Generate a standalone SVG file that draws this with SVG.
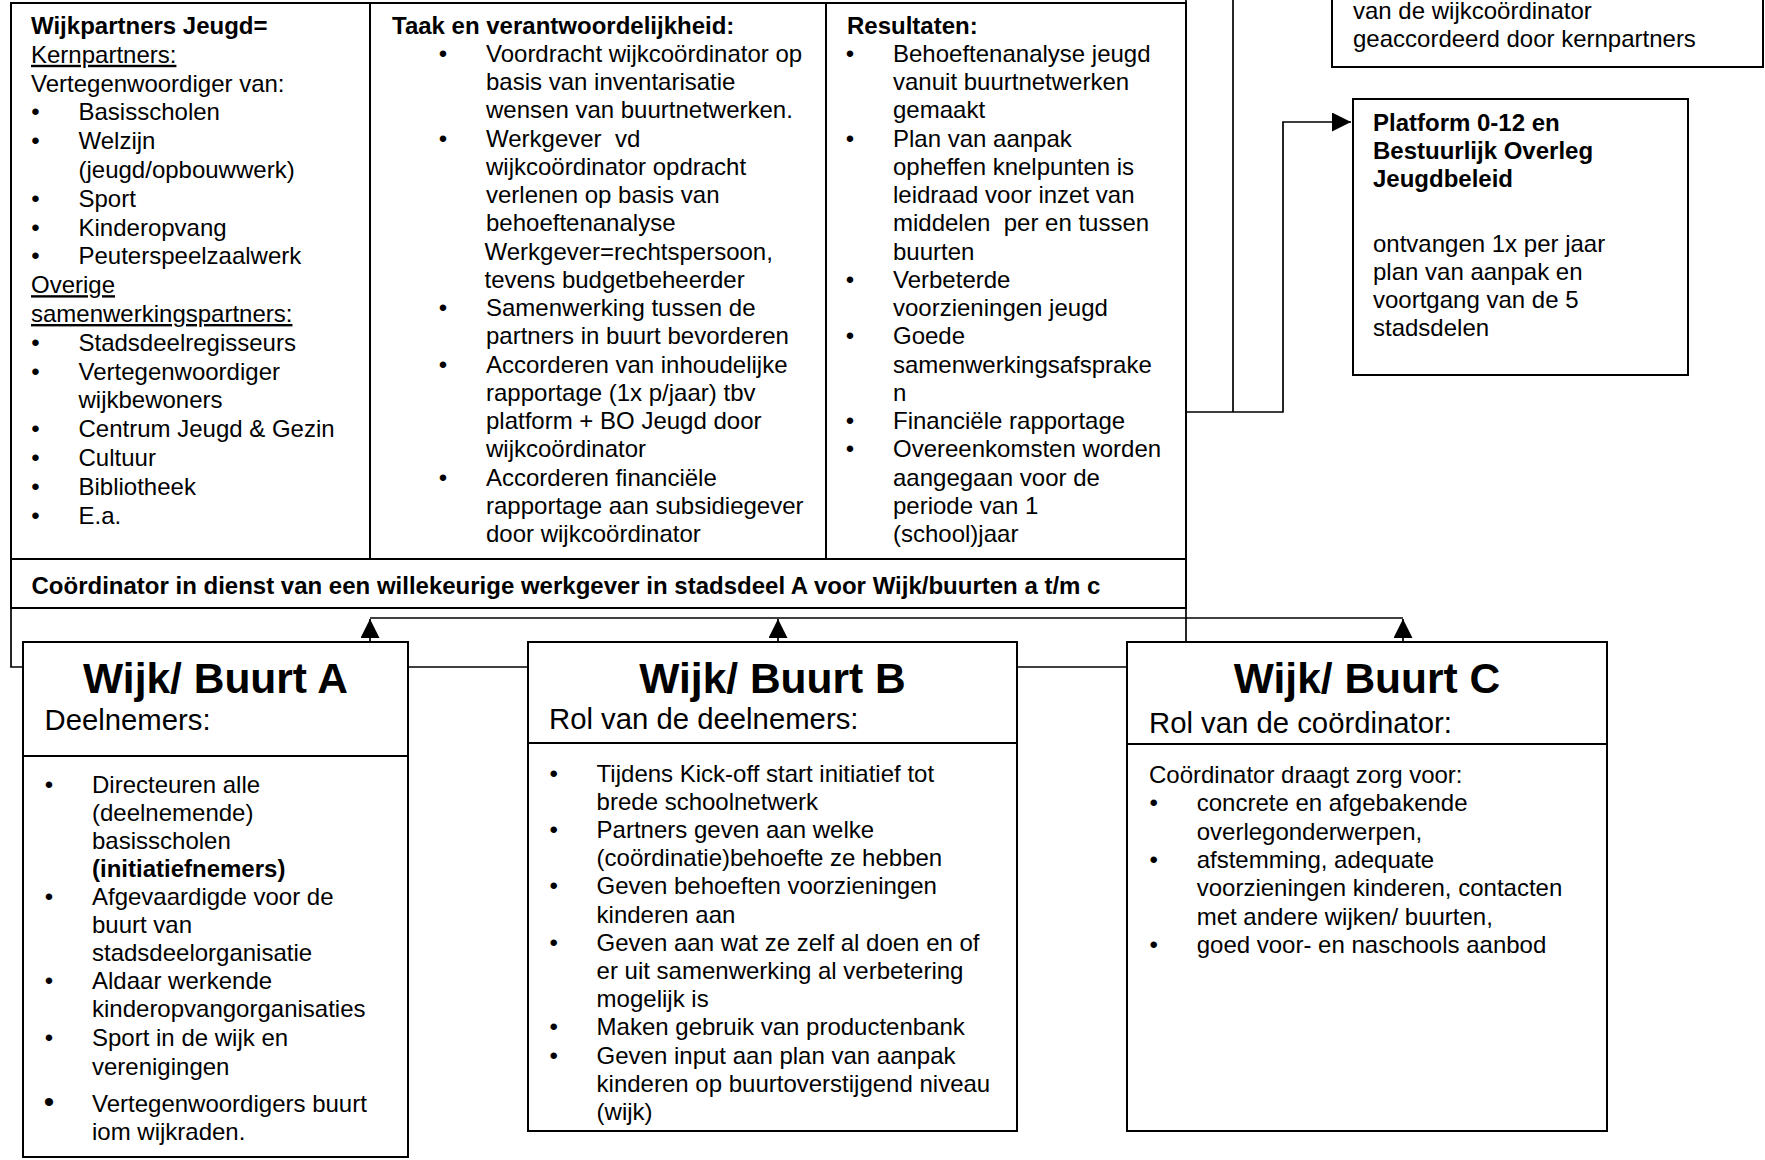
<svg xmlns="http://www.w3.org/2000/svg" width="1765" height="1160" viewBox="0 0 1765 1160">
<defs>
<style>
text{font-family:"Liberation Sans",Arial,sans-serif;font-size:24px;fill:#000}
.b{font-weight:bold}
.u{text-decoration:underline}
.pre{white-space:pre}
.ti{font-size:42.5px;font-weight:bold;text-anchor:middle}
.st{font-size:29.3px}
.bl{text-anchor:middle}
.box{fill:#fff;stroke:#000;stroke-width:2}
.ln{fill:none;stroke:#000;stroke-width:1.7}
</style>
<marker id="ah" markerUnits="userSpaceOnUse" markerWidth="20" markerHeight="20" refX="19" refY="9.5" orient="auto">
<path d="M0,0 L19,9.5 L0,19 Z" fill="#000"/>
</marker>
</defs>
<rect width="1765" height="1160" fill="#fff"/>

<g id="connectors">
<path class="ln" d="M1186,0 V642"/>
<path class="ln" d="M1233,0 V412"/>
<path class="ln" d="M1186,412 H1283 V122 H1351" marker-end="url(#ah)"/>
<path class="ln" d="M11,608 V667 H23"/>
<path class="ln" d="M408,667 H528"/>
<path class="ln" d="M1017,667 H1127"/>
<path class="ln" d="M370,618 H1403"/>
<path class="ln" d="M370,642 V619" marker-end="url(#ah)"/>
<path class="ln" d="M778,642 V619" marker-end="url(#ah)"/>
<path class="ln" d="M1403,642 V619" marker-end="url(#ah)"/>
</g>

<g id="wijkpartners-table">
<rect class="box" x="11" y="3" width="1175" height="605"/>
<path class="box" d="M370,3 V559 M826,3 V559 M11,559 H1186"/>
<text x="31" y="34" class="b">Wijkpartners Jeugd=</text>
<text x="31" y="62.8" class="u">Kernpartners:</text>
<text x="31" y="91.6">Vertegenwoordiger van:</text>
<text x="35.5" y="120.4" class="bl">•</text><text x="78.5" y="120.4">Basisscholen</text>
<text x="35.5" y="149.2" class="bl">•</text><text x="78.5" y="149.2">Welzijn</text>
<text x="78.5" y="178">(jeugd/opbouwwerk)</text>
<text x="35.5" y="206.8" class="bl">•</text><text x="78.5" y="206.8">Sport</text>
<text x="35.5" y="235.6" class="bl">•</text><text x="78.5" y="235.6">Kinderopvang</text>
<text x="35.5" y="264.4" class="bl">•</text><text x="78.5" y="264.4">Peuterspeelzaalwerk</text>
<text x="31" y="293.2" class="u">Overige</text>
<text x="31" y="322" class="u">samenwerkingspartners:</text>
<text x="35.5" y="350.8" class="bl">•</text><text x="78.5" y="350.8">Stadsdeelregisseurs</text>
<text x="35.5" y="379.6" class="bl">•</text><text x="78.5" y="379.6">Vertegenwoordiger</text>
<text x="78.5" y="408.4">wijkbewoners</text>
<text x="35.5" y="437.2" class="bl">•</text><text x="78.5" y="437.2">Centrum Jeugd &amp; Gezin</text>
<text x="35.5" y="466" class="bl">•</text><text x="78.5" y="466">Cultuur</text>
<text x="35.5" y="494.8" class="bl">•</text><text x="78.5" y="494.8">Bibliotheek</text>
<text x="35.5" y="523.6" class="bl">•</text><text x="78.5" y="523.6">E.a.</text>

<text x="392" y="33.5" class="b">Taak en verantwoordelijkheid:</text>
<text x="443" y="61.8" class="bl">•</text><text x="486" y="61.8">Voordracht wijkcoördinator op</text>
<text x="486" y="90">basis van inventarisatie</text>
<text x="486" y="118.3">wensen van buurtnetwerken.</text>
<text x="443" y="146.5" class="bl">•</text><text x="486" y="146.5" class="pre">Werkgever  vd</text>
<text x="486" y="174.8">wijkcoördinator opdracht</text>
<text x="486" y="203">verlenen op basis van</text>
<text x="486" y="231.3">behoeftenanalyse</text>
<text x="484.5" y="259.5">Werkgever=rechtspersoon,</text>
<text x="484.5" y="287.8">tevens budgetbeheerder</text>
<text x="443" y="316" class="bl">•</text><text x="486" y="316">Samenwerking tussen de</text>
<text x="486" y="344.3">partners in buurt bevorderen</text>
<text x="443" y="372.5" class="bl">•</text><text x="486" y="372.5">Accorderen van inhoudelijke</text>
<text x="486" y="400.8">rapportage (1x p/jaar) tbv</text>
<text x="486" y="429">platform + BO Jeugd door</text>
<text x="486" y="457.3">wijkcoördinator</text>
<text x="443" y="485.5" class="bl">•</text><text x="486" y="485.5">Accorderen financiële</text>
<text x="486" y="513.8">rapportage aan subsidiegever</text>
<text x="486" y="542">door wijkcoördinator</text>

<text x="847" y="33.5" class="b">Resultaten:</text>
<text x="850" y="61.8" class="bl">•</text><text x="893" y="61.8">Behoeftenanalyse jeugd</text>
<text x="893" y="90">vanuit buurtnetwerken</text>
<text x="893" y="118.3">gemaakt</text>
<text x="850" y="146.5" class="bl">•</text><text x="893" y="146.5">Plan van aanpak</text>
<text x="893" y="174.8">opheffen knelpunten is</text>
<text x="893" y="203">leidraad voor inzet van</text>
<text x="893" y="231.3" class="pre">middelen  per en tussen</text>
<text x="893" y="259.5">buurten</text>
<text x="850" y="287.8" class="bl">•</text><text x="893" y="287.8">Verbeterde</text>
<text x="893" y="316">voorzieningen jeugd</text>
<text x="850" y="344.3" class="bl">•</text><text x="893" y="344.3">Goede</text>
<text x="893" y="372.5">samenwerkingsafsprake</text>
<text x="893" y="400.8">n</text>
<text x="850" y="429" class="bl">•</text><text x="893" y="429">Financiële rapportage</text>
<text x="850" y="457.3" class="bl">•</text><text x="893" y="457.3">Overeenkomsten worden</text>
<text x="893" y="485.5">aangegaan voor de</text>
<text x="893" y="513.8">periode van 1</text>
<text x="893" y="542">(school)jaar</text>

<text x="31.5" y="594" class="b">Coördinator in dienst van een willekeurige werkgever in stadsdeel A voor Wijk/buurten a t/m c</text>
</g>

<g id="kernpartners-box">
<rect class="box" x="1332" y="-10" width="431" height="77"/>
<text x="1353" y="19">van de wijkcoördinator</text>
<text x="1353" y="47">geaccordeerd door kernpartners</text>
</g>

<g id="platform-box">
<rect class="box" x="1353" y="99" width="335" height="276"/>
<text x="1373" y="131" class="b">Platform 0-12 en</text>
<text x="1373" y="159" class="b">Bestuurlijk Overleg</text>
<text x="1373" y="187" class="b">Jeugdbeleid</text>
<text x="1373" y="251.5">ontvangen 1x per jaar</text>
<text x="1373" y="279.7">plan van aanpak en</text>
<text x="1373" y="308">voortgang van de 5</text>
<text x="1373" y="336">stadsdelen</text>
</g>

<g id="buurt-a">
<rect class="box" x="23" y="642" width="385" height="515"/>
<path class="box" d="M23,756 H408"/>
<text x="215.5" y="693" class="ti">Wijk/ Buurt A</text>
<text x="44.5" y="730" class="st">Deelnemers:</text>
<text x="49" y="792.5" class="bl">•</text><text x="92" y="792.5">Directeuren alle</text>
<text x="92" y="820.6">(deelnemende)</text>
<text x="92" y="848.7">basisscholen</text>
<text x="92" y="876.8" class="b">(initiatiefnemers)</text>
<text x="49" y="904.9" class="bl">•</text><text x="92" y="904.9">Afgevaardigde voor de</text>
<text x="92" y="933">buurt van</text>
<text x="92" y="961.1">stadsdeelorganisatie</text>
<text x="49" y="989.2" class="bl">•</text><text x="92" y="989.2">Aldaar werkende</text>
<text x="92" y="1017.3">kinderopvangorganisaties</text>
<text x="49" y="1046.4" class="bl">•</text><text x="92" y="1046.4">Sport in de wijk en</text>
<text x="92" y="1074.5">verenigingen</text>
<text x="49" y="1112" class="bl" style="font-size:30px">•</text><text x="92" y="1112">Vertegenwoordigers buurt</text>
<text x="92" y="1139.5">iom wijkraden.</text>
</g>

<g id="buurt-b">
<rect class="box" x="528" y="642" width="489" height="489"/>
<path class="box" d="M528,743 H1017"/>
<text x="772.5" y="693" class="ti">Wijk/ Buurt B</text>
<text x="549" y="729" class="st">Rol van de deelnemers:</text>
<text x="553.6" y="781.5" class="bl">•</text><text x="596.6" y="781.5">Tijdens Kick-off start initiatief tot</text>
<text x="596.6" y="809.7">brede schoolnetwerk</text>
<text x="553.6" y="837.9" class="bl">•</text><text x="596.6" y="837.9">Partners geven aan welke</text>
<text x="596.6" y="866.1">(coördinatie)behoefte ze hebben</text>
<text x="553.6" y="894.3" class="bl">•</text><text x="596.6" y="894.3">Geven behoeften voorzieningen</text>
<text x="596.6" y="922.5">kinderen aan</text>
<text x="553.6" y="950.7" class="bl">•</text><text x="596.6" y="950.7">Geven aan wat ze zelf al doen en of</text>
<text x="596.6" y="978.9">er uit samenwerking al verbetering</text>
<text x="596.6" y="1007.1">mogelijk is</text>
<text x="553.6" y="1035.3" class="bl">•</text><text x="596.6" y="1035.3">Maken gebruik van productenbank</text>
<text x="553.6" y="1063.5" class="bl">•</text><text x="596.6" y="1063.5">Geven input aan plan van aanpak</text>
<text x="596.6" y="1091.7">kinderen op buurtoverstijgend niveau</text>
<text x="596.6" y="1119.9">(wijk)</text>
</g>

<g id="buurt-c">
<rect class="box" x="1127" y="642" width="480" height="489"/>
<path class="box" d="M1127,744 H1607"/>
<text x="1367" y="693" class="ti">Wijk/ Buurt C</text>
<text x="1149" y="733" class="st">Rol van de coördinator:</text>
<text x="1149" y="783">Coördinator draagt zorg voor:</text>
<text x="1153.7" y="811.3" class="bl">•</text><text x="1196.7" y="811.3">concrete en afgebakende</text>
<text x="1196.7" y="839.6">overlegonderwerpen,</text>
<text x="1153.7" y="867.9" class="bl">•</text><text x="1196.7" y="867.9">afstemming, adequate</text>
<text x="1196.7" y="896.2">voorzieningen kinderen, contacten</text>
<text x="1196.7" y="924.5">met andere wijken/ buurten,</text>
<text x="1153.7" y="952.8" class="bl">•</text><text x="1196.7" y="952.8">goed voor- en naschools aanbod</text>
</g>
</svg>
